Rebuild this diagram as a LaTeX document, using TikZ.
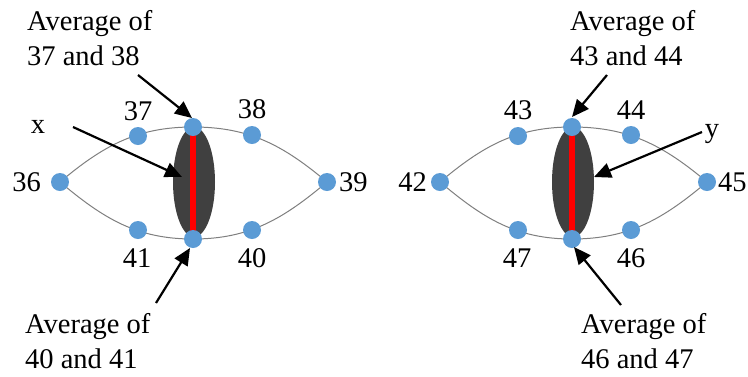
\documentclass[tikz,border=0pt]{standalone}
\usepackage{fontspec}
\setmainfont{Liberation Serif}
\usetikzlibrary{arrows.meta}
\definecolor{dotblue}{HTML}{5B9BD5}
\definecolor{pupil}{HTML}{404040}
\definecolor{lidgray}{HTML}{7F7F7F}
\tikzset{
  lm/.style={circle,fill=dotblue,inner sep=0pt,minimum size=18pt},
  num/.style={inner sep=0pt,font=\fontsize{28.5}{34.5}\selectfont},
  lbl/.style={inner sep=0pt,align=left,font=\fontsize{28.5}{34.5}\selectfont},
  lid/.style={draw=lidgray,line width=1pt},
  ptr/.style={draw=black,line width=2.2pt,-{Triangle[length=17pt,width=15pt]}},
  pup/.style={fill=pupil},
  midline/.style={draw=red,line width=6pt}
}
\begin{document}
\begin{tikzpicture}[x=1pt,y=-1pt]
\useasboundingbox (0,0) rectangle (748,376);
% ---------- left eye ----------
\coordinate (p36) at (60,182);
\coordinate (p37) at (138,136);
\coordinate (pT1) at (193,127);
\coordinate (p38) at (252,135);
\coordinate (p39) at (327,182);
\coordinate (p40) at (252,230);
\coordinate (pB1) at (193,239);
\coordinate (p41) at (138,230);
\draw[lid] (p36) to[out=40,in=180] (pT1) to[out=0,in=140] (p39);
\draw[lid] (p36) to[out=-40,in=180] (pB1) to[out=0,in=-140] (p39);
\fill[pup] (194,182) ellipse [x radius=21, y radius=55];
\draw[midline] (pT1) -- (pB1);
\node[lm] (n36) at (p36) {};
\node[lm] (n37) at (p37) {};
\node[lm] (t1) at (pT1) {};
\node[lm] (n38) at (p38) {};
\node[lm] (n39) at (p39) {};
\node[lm] (n40) at (p40) {};
\node[lm] (b1) at (pB1) {};
\node[lm] (n41) at (p41) {};
\node[num,anchor=base east] (l36) at (41,191) {36};
\node[num,anchor=base] (l37) at (138,120) {37};
\node[num,anchor=base] (l38) at (252,118) {38};
\node[num,anchor=base west] (l39) at (339,191) {39};
\node[num,anchor=base] (l40) at (252,267) {40};
\node[num,anchor=base] (l41) at (137,267) {41};
\node[num,anchor=base] (lx) at (38,133) {x};
\node[lbl,anchor=base west] (a1) at (27,65) {Average of\\37 and 38};
\node[lbl,anchor=base west] (a2) at (25,368) {Average of\\40 and 41};
\coordinate (a1s) at (138,75);
\coordinate (a1e) at (192,118);
\coordinate (xs) at (73,127);
\coordinate (xe) at (182,177);
\coordinate (a2s) at (156,303);
\coordinate (a2e) at (190,248);
\draw[ptr] (a1s) -- (a1e);
\draw[ptr] (xs) -- (xe);
\draw[ptr] (a2s) -- (a2e);
% ---------- right eye ----------
\coordinate (p42) at (440,182);
\coordinate (p43) at (518,136);
\coordinate (pT2) at (572,127);
\coordinate (p44) at (631,135);
\coordinate (p45) at (707,182);
\coordinate (p46) at (631,230);
\coordinate (pB2) at (572,239);
\coordinate (p47) at (518,230);
\draw[lid] (p42) to[out=40,in=180] (pT2) to[out=0,in=140] (p45);
\draw[lid] (p42) to[out=-40,in=180] (pB2) to[out=0,in=-140] (p45);
\fill[pup] (573,182) ellipse [x radius=21, y radius=55];
\draw[midline] (pT2) -- (pB2);
\node[lm] (n42) at (p42) {};
\node[lm] (n43) at (p43) {};
\node[lm] (t2) at (pT2) {};
\node[lm] (n44) at (p44) {};
\node[lm] (n45) at (p45) {};
\node[lm] (n46) at (p46) {};
\node[lm] (b2) at (pB2) {};
\node[lm] (n47) at (p47) {};
\node[num,anchor=base east] (l42) at (427,191) {42};
\node[num,anchor=base] (l43) at (518,119) {43};
\node[num,anchor=base] (l44) at (631,119) {44};
\node[num,anchor=base west] (l45) at (718,191) {45};
\node[num,anchor=base] (l46) at (631,267) {46};
\node[num,anchor=base] (l47) at (517,267) {47};
\node[num,anchor=base] (ly) at (712,137) {y};
\node[lbl,anchor=base west] (a3) at (570,65) {Average of\\43 and 44};
\node[lbl,anchor=base west] (a4) at (581,368) {Average of\\46 and 47};
\coordinate (a3s) at (607,75);
\coordinate (a3e) at (572,117);
\coordinate (ys) at (702,132);
\coordinate (ye) at (594,177);
\coordinate (a4s) at (621,305);
\coordinate (a4e) at (574,247);
\draw[ptr] (a3s) -- (a3e);
\draw[ptr] (ys) -- (ye);
\draw[ptr] (a4s) -- (a4e);
\end{tikzpicture}
\end{document}
